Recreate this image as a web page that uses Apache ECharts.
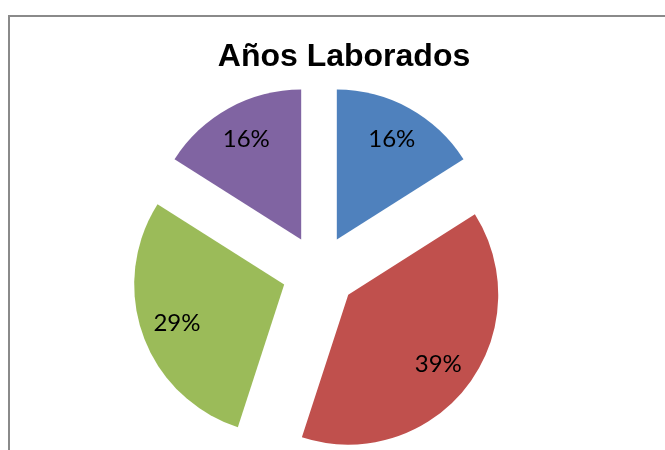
<!DOCTYPE html>
<html>
<head>
<meta charset="utf-8">
<script src="https://cdn.jsdelivr.net/npm/echarts@6/dist/echarts.min.js"></script>
<style>
  html, body { margin: 0; padding: 0; background: #fff; }
  #chart { width: 665px; height: 450px; }
</style>
</head>
<body>
<div id="chart"></div>
<script>
// datos del grafico
var categorias = ['A', 'B', 'C', 'D'];
var valores = [16, 39, 29, 16];
var colores = ['#4F81BD', '#C0504D', '#9BBB59', '#8064A2'];

var centro = [319, 272];
var desplazamiento = 37;

var myChart = echarts.init(document.getElementById('chart'));

function buildData(conColor) {
    return categorias.map(function (name, i) {
        return {
            name: name,
            value: valores[i],
            selected: true,
            itemStyle: { color: conColor ? colores[i] : 'rgba(0,0,0,0)' }
        };
    });
}

myChart.setOption({
    backgroundColor: '#fff',
    animation: false,
    title: {
        text: 'Años Laborados',
        left: 339,
        top: 36,
        textAlign: 'center',
        textStyle: {
            fontFamily: 'Liberation Sans, Arial',
            fontWeight: 'bold',
            fontSize: 32,
            color: '#000'
        }
    },
    graphic: [{
        type: 'rect',
        shape: { x: 9, y: 16, width: 700, height: 500 },
        style: { fill: 'none', stroke: '#8a8a8a', lineWidth: 2 },
        silent: true
    }],
    series: [
        {
            type: 'pie',
            center: centro,
            radius: [0, 150],
            startAngle: 90,
            clockwise: true,
            selectedMode: 'multiple',
            selectedOffset: desplazamiento,
            label: { show: false },
            labelLine: { show: false },
            emphasis: { disabled: true },
            silent: true,
            data: buildData(true)
        },
        {
            // serie invisible solo para colocar las etiquetas
            type: 'pie',
            center: centro,
            radius: [72, 150],
            startAngle: 90,
            clockwise: true,
            selectedMode: 'multiple',
            selectedOffset: desplazamiento,
            percentPrecision: 0,
            z: 5,
            label: {
                show: true,
                position: 'inside',
                formatter: '{d}%',
                fontFamily: 'Lato',
                fontSize: 24,
                color: '#000'
            },
            labelLine: { show: false },
            emphasis: { disabled: true },
            silent: true,
            data: buildData(false)
        }
    ]
});
</script>
</body>
</html>
